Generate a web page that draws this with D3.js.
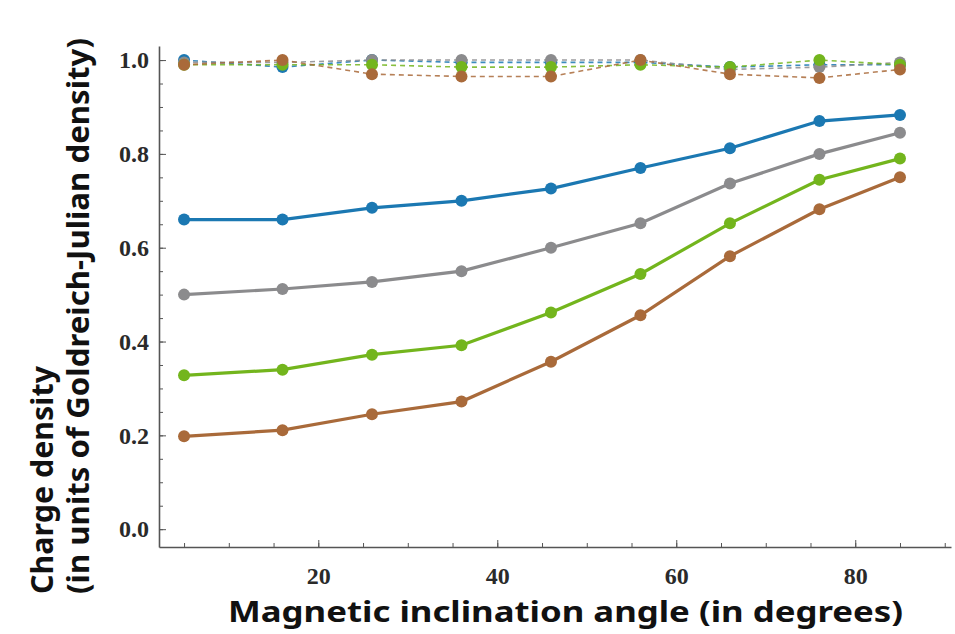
<!DOCTYPE html>
<html>
<head>
<meta charset="utf-8">
<script src="https://cdn.jsdelivr.net/npm/d3@7"></script>
<style>
    body { margin: 0; background: #fff; }
    .tick-label { font-family: 'Liberation Serif', 'DejaVu Serif', serif; font-weight: bold; fill: #2a2a2a; }
    .title { font-family: 'Noto Sans', 'Open Sans', sans-serif; font-weight: bold; fill: #111; }
</style>
</head>
<body>
<div class="chart"></div>
<script>
const angles = [5, 16, 26, 36, 46, 56, 66, 76, 85];

const blue = [0.66, 0.66, 0.685, 0.7, 0.726, 0.77, 0.812, 0.87, 0.883];
const gray = [0.5, 0.512, 0.527, 0.55, 0.6, 0.652, 0.737, 0.8, 0.845];
const green = [0.328, 0.34, 0.372, 0.392, 0.462, 0.544, 0.652, 0.745, 0.79];
const brown = [0.198, 0.211, 0.245, 0.272, 0.357, 0.456, 0.582, 0.682, 0.75];

const blueDashed = [1.0, 0.985, 1.0, 0.995, 0.995, 0.995, 0.985, 0.99, 0.99];
const grayDashed = [0.995, 0.995, 1.0, 1.0, 1.0, 1.0, 0.98, 0.985, 0.995];
const greenDashed = [0.99, 0.99, 0.99, 0.985, 0.985, 0.99, 0.985, 1.0, 0.99];
const brownDashed = [0.99, 1.0, 0.97, 0.965, 0.965, 1.0, 0.97, 0.962, 0.98];

const yTickValues = [0, 0.2, 0.4, 0.6, 0.8, 1.0];
const xTickValues = [20, 40, 60, 80];

const colors = {
    blue: '#1b78b2',
    gray: '#8b8b8d',
    green: '#73b51d',
    brown: '#a96a3a',
};

const series = [
    { name: 'blue', values: blueDashed, dashed: true },
    { name: 'gray', values: grayDashed, dashed: true },
    { name: 'green', values: greenDashed, dashed: true },
    { name: 'brown', values: brownDashed, dashed: true },
    { name: 'brown', values: brown, dashed: false },
    { name: 'green', values: green, dashed: false },
    { name: 'gray', values: gray, dashed: false },
    { name: 'blue', values: blue, dashed: false },
];

const w = 955;
const h = 634;

const svg = d3.select('.chart').append('svg').attr('width', w).attr('height', h);

const x = d3.scaleLinear().domain([2.2, 90.7]).range([159, 951]);
const y = d3.scaleLinear().domain([-0.038, 1.03]).range([547, 46]);

// minor ticks first
svg.append('g')
    .attr('transform', `translate(0,${y.range()[0]})`)
    .call(d3.axisBottom(x).tickValues(d3.range(5, 91, 5)).tickSizeInner(-4).tickSizeOuter(0).tickFormat(''))
    .call((g) => g.selectAll('line').attr('stroke', '#555'))
    .call((g) => g.select('.domain').attr('stroke', '#555').attr('stroke-width', 1.6));

svg.append('g')
    .attr('transform', `translate(${x.range()[0]},0)`)
    .call(d3.axisLeft(y).tickValues(d3.range(0, 1.01, 0.05)).tickSizeInner(-4).tickSizeOuter(0).tickFormat(''))
    .call((g) => g.selectAll('line').attr('stroke', '#555'))
    .call((g) => g.select('.domain').attr('stroke', '#555').attr('stroke-width', 1.6));

// major ticks with labels
svg.append('g')
    .attr('transform', `translate(0,${y.range()[0]})`)
    .call(d3.axisBottom(x).tickValues(xTickValues).tickSizeInner(-7).tickSizeOuter(0).tickPadding(20))
    .call((g) => g.select('.domain').remove())
    .call((g) => g.selectAll('line').attr('stroke', '#555'))
    .call((g) => g.selectAll('text').attr('class', 'tick-label').attr('font-size', 24));

svg.append('g')
    .attr('transform', `translate(${x.range()[0]},0)`)
    .call(d3.axisLeft(y).tickValues(yTickValues).tickSizeInner(-7).tickSizeOuter(0).tickPadding(10).tickFormat(d3.format('.1f')))
    .call((g) => g.select('.domain').remove())
    .call((g) => g.selectAll('line').attr('stroke', '#555'))
    .call((g) => g.selectAll('text').attr('class', 'tick-label').attr('font-size', 24));

const line = d3.line().x((d) => x(d.a)).y((d) => y(d.v));

series.forEach((s) => {
    const pts = angles.map((a, i) => ({ a, v: s.values[i] }));
    const g = svg.append('g');
    g.append('path')
        .datum(pts)
        .attr('d', line)
        .attr('fill', 'none')
        .attr('stroke', colors[s.name])
        .attr('stroke-width', s.dashed ? 1.6 : 3.2)
        .attr('stroke-dasharray', s.dashed ? '5,4' : null)
        .attr('opacity', s.dashed ? 0.85 : 1);
    g.selectAll('circle')
        .data(pts)
        .enter()
        .append('circle')
        .attr('cx', (d) => x(d.a))
        .attr('cy', (d) => y(d.v))
        .attr('r', 6)
        .attr('fill', colors[s.name]);
});

svg.append('text')
    .attr('class', 'title')
    .attr('x', 228)
    .attr('y', 622)
    .attr('font-size', 29)
    .attr('textLength', 675)
    .attr('lengthAdjust', 'spacingAndGlyphs')
    .text('Magnetic inclination angle (in degrees)');

svg.append('text')
    .attr('class', 'title')
    .attr('transform', 'translate(53,594) rotate(-90)')
    .attr('font-size', 30)
    .attr('textLength', 228)
    .attr('lengthAdjust', 'spacingAndGlyphs')
    .text('Charge density');

svg.append('text')
    .attr('class', 'title')
    .attr('transform', 'translate(89,594) rotate(-90)')
    .attr('font-size', 30)
    .attr('textLength', 556)
    .attr('lengthAdjust', 'spacingAndGlyphs')
    .text('(in units of Goldreich-Julian density)');
</script>
</body>
</html>
